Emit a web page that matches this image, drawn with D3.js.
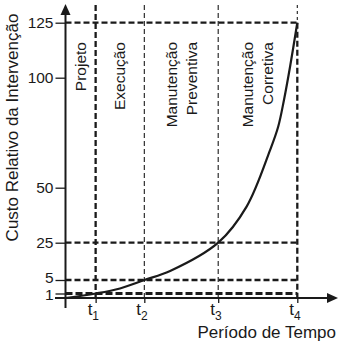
<!DOCTYPE html>
<html>
<head>
<meta charset="utf-8">
<script src="https://cdn.jsdelivr.net/npm/d3@7"></script>
<style>
  html, body { margin: 0; padding: 0; background: #fff; }
  svg { display: block; }
  text { font-family: "Liberation Sans", Arial, sans-serif; fill: #1a1a1a; }
</style>
</head>
<body>
<svg id="chart" width="348" height="346"></svg>
<script>
// Time marks t1..t4 (relative time units)
const timeTicks = [1.04, 2.72, 5.27, 8];
const timeLabels = ["1", "2", "3", "4"];
// Cost axis tick values
const costTicks = [1, 5, 25, 50, 100, 125];
// Cost levels reached at each time mark (dashed guides)
const guideLevels = [1, 5, 25, 125];
// Cost curve samples
const curveTime = [0, 1.04, 1.88, 2.72, 3.61, 5.27, 6.25, 7.06, 7.34, 7.54, 7.75, 8];
const curveCost = [0, 1, 2.5, 5, 9.8, 25, 41.4, 67.1, 77.7, 89.9, 105, 125];
// Phase names, one band between consecutive time marks
const phases = [["Projeto"], ["Execução"], ["Manutenção", "Preventiva"], ["Manutenção", "Corretiva"]];

const svg = d3.select("#chart");
const ink = "#1a1a1a";

const x = d3.scaleLinear().domain([0, 8]).range([65.5, 297.3]);
// Lower part of the cost axis is expanded so the small levels stay readable
const y = d3.scaleLinear().domain([0, 1, 5, 25, 125]).range([298, 293.5, 280, 242.7, 22.7]);

const x0 = x(0), y0 = y(0);
const xEnd = x(8), yTop = y(125);

// Vertical phase boundaries
const vg = svg.append("g");
timeTicks.forEach((t, i) => {
  const thick = (i === 0 || i === 3);
  vg.append("line")
    .attr("x1", x(t)).attr("x2", x(t))
    .attr("y1", thick && i === 3 ? yTop : 5).attr("y2", y0)
    .attr("stroke", ink)
    .attr("stroke-width", thick ? 2.3 : 1.1)
    .attr("stroke-dasharray", thick ? "6,3" : "5,3");
  if (i === 3) {
    vg.append("line")
      .attr("x1", x(t)).attr("x2", x(t))
      .attr("y1", 5).attr("y2", yTop)
      .attr("stroke", ink).attr("stroke-width", 1.1)
      .attr("stroke-dasharray", "3,3");
  }
});

// Horizontal cost guides
guideLevels.forEach(v => {
  svg.append("line")
    .attr("x1", x0).attr("x2", xEnd)
    .attr("y1", y(v)).attr("y2", y(v))
    .attr("stroke", ink)
    .attr("stroke-width", v === 1 ? 3 : 2.3)
    .attr("stroke-dasharray", v === 1 ? "7,3" : "6,3");
});

// Cost curve
const pts = curveTime.map((t, i) => [x(t), y(curveCost[i])]);
svg.append("path")
  .attr("d", d3.line().curve(d3.curveCatmullRom.alpha(0.5))(pts))
  .attr("fill", "none")
  .attr("stroke", ink)
  .attr("stroke-width", 2.2);

// Axes
const yAxis = d3.axisLeft(y).tickValues(costTicks).tickSize(10).tickPadding(2).tickFormat(d3.format("d"));
const gy = svg.append("g").attr("transform", `translate(${x0},0)`).call(yAxis);
gy.select(".domain").remove();
gy.selectAll(".tick line").attr("stroke", ink).attr("stroke-width", 1.3);
gy.selectAll(".tick text").attr("font-size", 15.5).attr("fill", ink)
  .attr("dy", d => d === 5 ? "0.15em" : d === 1 ? "0.4em" : "0.32em")
  .style("font-family", '"Liberation Sans", Arial, sans-serif');

const xAxis = d3.axisBottom(x).tickValues(timeTicks).tickSize(5).tickFormat("");
const gx = svg.append("g").attr("transform", `translate(0,${y0})`).call(xAxis);
gx.select(".domain").remove();
gx.selectAll(".tick line").attr("stroke", ink).attr("stroke-width", 1.3);

// Axis lines with arrowheads
svg.append("line").attr("x1", x0).attr("x2", x0).attr("y1", 308).attr("y2", 12)
  .attr("stroke", ink).attr("stroke-width", 2);
svg.append("path").attr("d", `M${x0},4 L${x0 - 5},15 L${x0 + 5},15 Z`).attr("fill", ink);
svg.append("line").attr("x1", 55).attr("x2", 330).attr("y1", y0).attr("y2", y0)
  .attr("stroke", ink).attr("stroke-width", 2);
svg.append("path").attr("d", `M338,${y0} L327,${y0 - 5} L327,${y0 + 5} Z`).attr("fill", ink);

// Time mark labels t1..t4
timeTicks.forEach((t, i) => {
  const tx = svg.append("text").attr("x", x(t) - 8).attr("y", 315).attr("font-size", 17);
  tx.append("tspan").text("t");
  tx.append("tspan").attr("dy", 5).attr("font-size", 12).text(timeLabels[i]);
});

// Phase labels, vertical, centred in their bands
const bounds = [0].concat(timeTicks);
phases.forEach((lines, i) => {
  const mid = (x(bounds[i]) + x(bounds[i + 1])) / 2;
  const gap = 20;
  const n = lines.length;
  lines.forEach((s, j) => {
    const bx = mid + 5.5 + (j - (n - 1) / 2) * gap;
    svg.append("text")
      .attr("transform", `translate(${bx},42) rotate(-90)`)
      .attr("text-anchor", "end")
      .attr("font-size", 15.5)
      .text(s);
  });
});

// Axis titles
svg.append("text")
  .attr("transform", "translate(17.5,127.5) rotate(-90)")
  .attr("text-anchor", "middle")
  .attr("font-size", 17)
  .text("Custo Relativo da Intervenção");

svg.append("text")
  .attr("x", 336).attr("y", 338)
  .attr("text-anchor", "end")
  .attr("font-size", 17)
  .text("Período de Tempo");
</script>
</body>
</html>
